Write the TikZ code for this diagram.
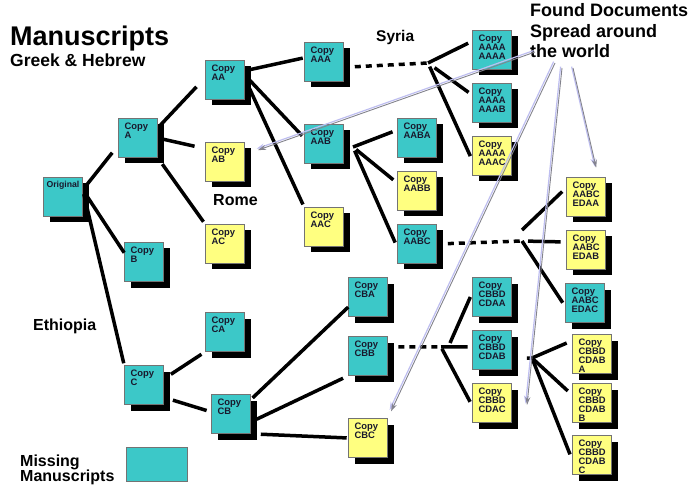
\documentclass[tikz,border=0pt]{standalone}
\usepackage{fontspec}
\setmainfont{Liberation Sans}
\usepackage{tikz}
\usetikzlibrary{shadows,arrows.meta}
\definecolor{lostcyan}{RGB}{60,200,200}
\definecolor{keptyellow}{RGB}{255,255,128}
\definecolor{ink}{RGB}{25,25,45}
\definecolor{lavender}{RGB}{190,190,240}
\definecolor{arrowgray}{RGB}{130,130,140}
\newcommand{\cp}[1]{\parbox[c][31pt][t]{27pt}{\raggedright Copy\\#1}}

\begin{document}
\begin{tikzpicture}[x=1pt,y=-1pt]
        \tikzstyle{every node} = [rectangle, inner sep=0pt]
        \tikzstyle{lost} = [draw=black!55, line width=0.6pt, fill=lostcyan, minimum width=39pt, minimum height=39pt, text=ink, font=\bfseries\fontsize{9.4}{9.2}\selectfont, drop shadow={shadow xshift=6pt, shadow yshift=-6pt, fill=black, opacity=1}]
        \tikzstyle{kept} = [lost, fill=keptyellow]
        \tikzstyle{tie} = [line width=3.5pt]
        \tikzstyle{tiedots} = [tie, dash pattern=on 6pt off 5pt]
        \tikzstyle{spread} = [draw=arrowgray, line width=0.9pt, -{Stealth[length=8pt, width=5pt, fill=lavender]}, preaction={draw=lavender, line width=1.2pt, transform canvas={shift={(-1.4pt,1.4pt)}}}]
        \useasboundingbox (0,0) rectangle (693,486);
        \node[anchor=base west, font=\bfseries\fontsize{27}{27}\selectfont] (title) at (10,46) {Manuscripts};
        \node[anchor=base west, font=\bfseries\fontsize{17.5}{17.5}\selectfont] (greek) at (10,67) {Greek \& Hebrew};
        \node[anchor=base west, font=\bfseries\fontsize{15.5}{15.5}\selectfont] (syria) at (376,42) {Syria};
        \node[anchor=base west, font=\bfseries\fontsize{16}{16}\selectfont] (rome) at (213,206) {Rome};
        \node[anchor=base west, font=\bfseries\fontsize{16}{16}\selectfont] (ethiopia) at (33,330) {Ethiopia};
        \node[anchor=north west, align=left, font=\bfseries\fontsize{18}{20.3}\selectfont] (found) at (530,3.6) {Found Documents\\Spread around\\the world};
        \node[anchor=north west, align=left, font=\bfseries\fontsize{16}{15}\selectfont] (missing) at (20,455) {Missing\\Manuscripts};
        \node[draw=black!55, line width=0.6pt, fill=lostcyan, minimum width=61pt, minimum height=34pt] (legend) at (156.5,464) {};
        \node[lost] (orig) at (63,197) {\parbox[c][31pt][t]{33pt}{\fontsize{8.7}{9}\selectfont Original}};
        \node[lost] (a) at (138,138) {\cp{A}};
        \node[lost] (b) at (144,262) {\cp{B}};
        \node[lost] (c) at (144,385) {\cp{C}};
        \node[lost] (aa) at (225,80) {\cp{AA}};
        \node[kept] (ab) at (225,162) {\cp{AB}};
        \node[kept] (ac) at (225,244) {\cp{AC}};
        \node[lost] (ca) at (225,332) {\cp{CA}};
        \node[lost] (cb) at (231,414) {\cp{CB}};
        \node[lost] (aaa) at (324,62) {\cp{AAA}};
        \node[lost] (aab) at (324,144) {\cp{AAB}};
        \node[kept] (aac) at (324,227) {\cp{AAC}};
        \node[lost] (aaba) at (417,138) {\cp{AABA}};
        \node[kept] (aabb) at (417,191) {\cp{AABB}};
        \node[lost] (aabc) at (417,244) {\cp{AABC}};
        \node[lost] (cba) at (368,297) {\cp{CBA}};
        \node[lost] (cbb) at (368,356) {\cp{CBB}};
        \node[kept] (cbc) at (368,438) {\cp{CBC}};
        \node[lost] (a4a) at (492,50) {\cp{AAAA\\AAAA}};
        \node[lost] (a4b) at (492,103) {\cp{AAAA\\AAAB}};
        \node[kept] (a4c) at (492,156) {\cp{AAAA\\AAAC}};
        \node[kept] (edaa) at (586,197) {\cp{AABC\\EDAA}};
        \node[kept] (edab) at (586,250) {\cp{AABC\\EDAB}};
        \node[lost] (edac) at (585,303) {\cp{AABC\\EDAC}};
        \node[lost] (cdaa) at (492,297) {\cp{CBBD\\CDAA}};
        \node[lost] (cdab) at (492,350) {\cp{CBBD\\CDAB}};
        \node[kept] (cdac) at (492,403) {\cp{CBBD\\CDAC}};
        \node[kept] (cdaba) at (592,354) {\cp{CBBD\\CDAB\\A}};
        \node[kept] (cdabb) at (592,403) {\cp{CBBD\\CDAB\\B}};
        \node[kept] (cdabc) at (592,455) {\cp{CBBD\\CDAB\\C}};
        \coordinate (fab) at (353,147);
        \coordinate (fs) at (428,63);
        \coordinate (fc) at (522,241);
        \coordinate (fcup) at (522,230);
        \coordinate (fb) at (441,347);
        \coordinate (fbup) at (450,343);
        \coordinate (fd) at (532,358);
        \coordinate (world1) at (535,52);
        \coordinate (world2) at (555,63);
        \coordinate (world3) at (562,68);
        \coordinate (world4) at (573,68);
        \coordinate (spot) at (527,405);
        \foreach \from/\to/\sa/\sb in {orig.20/a.200/4.5/9.6, orig.20/b.155/4.5/0, orig.20/c.north west/4.5/2,
            a.27/aa.173/2.5/12.7, a.east/ab.146/5.6/10.9, a.south east/ac.north west/7.8/3,
            aa.25/aaa.168/5.5/1.5, aa.14/aab.163/3.5/3, aa.5/aac.north west/5.5/3,
            c.17/ca.south west/8.5/4.5, c.328/cb.174/9.5/4.8,
            cb.36/cba.207/2.5/0, cb.338/cbb.south west/6.5/5.7, cb.south east/cbc.west/10/1.5,
            fab/aaba.158/0/5, fab/aabb.158/4/5, fab/aabc.189/4/5,
            fs/a4a.156/0/4.5, fs/a4b.158/8/4.5, fs/a4c.192/4/4.5,
            fcup/edaa.155/0/5.5, fc/edab.158/6/5.5, fc/edac.190/0/4.5,
            fbup/cdaa.168/0/4.6, fb/cdab.171/0/4.5, fb/cdac.188/2/4.5,
            fd/cdaba.146/0/6, fd/cdabb.158/0/6, fd/cdabc.194/0/6}
            \draw[tie, shorten <=\sa pt, shorten >=\sb pt] (\from) -- (\to);
        \foreach \from/\to/\sa in {aaa.345/fs/11, aabc.east/fc/11, cbb.25/fb/10.5, cdab.338/fd/15}
            \draw[tiedots, shorten <=\sa pt] (\from) -- (\to);
        \foreach \from/\to/\sb in {world1/ab.20/14, world2/cbc.north east/7.6, world3/spot/0, world4/edaa.58/9.7}
            \draw[spread, shorten >=\sb pt] (\from) -- (\to);
    \end{tikzpicture}
\end{document}
